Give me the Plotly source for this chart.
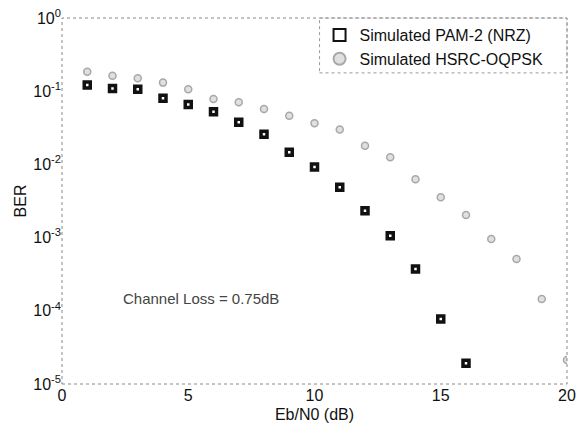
import plotly.graph_objects as go

ebn0_pam = [1, 2, 3, 4, 5, 6, 7, 8, 9, 10, 11, 12, 13, 14, 15, 16]
ber_pam = [0.122, 0.109, 0.106, 0.080, 0.066, 0.0525, 0.0376, 0.0258, 0.0146, 0.0092,
           0.00486, 0.00233, 0.00106, 0.000373, 7.7e-5, 1.92e-5]

ebn0_hsrc = [1, 2, 3, 4, 5, 6, 7, 8, 9, 10, 11, 12, 13, 14, 15, 16, 17, 18, 19, 20]
ber_hsrc = [0.185, 0.163, 0.150, 0.131, 0.106, 0.078, 0.0705, 0.057, 0.0463, 0.0366,
            0.030, 0.018, 0.0125, 0.00625, 0.00355, 0.00204, 0.00096, 0.00051, 0.000145, 2.13e-5]

y_tickvals = [1, 0.1, 0.01, 0.001, 0.0001, 0.00001]
y_ticktext = ["10<sup>0</sup>", "10<sup>-1</sup>", "10<sup>-2</sup>", "10<sup>-3</sup>",
              "10<sup>-4</sup>", "10<sup>-5</sup>"]
x_tickvals = [0, 5, 10, 15, 20]

font_family = "Liberation Sans, Arial, sans-serif"

fig = go.Figure()
fig.add_trace(go.Scatter(
    x=ebn0_pam, y=ber_pam, mode="markers", name="Simulated PAM-2 (NRZ)",
    marker=dict(symbol="square-open", size=6, color="#111111", line=dict(width=3.5, color="#111111")),
))
fig.add_trace(go.Scatter(
    x=ebn0_hsrc, y=ber_hsrc, mode="markers", name="Simulated HSRC-OQPSK",
    marker=dict(symbol="circle", size=7, color="#e0e0e0", line=dict(width=1.5, color="#a8a8a8")),
))

fig.add_annotation(x=5.5, y=-3.83, xref="x", yref="y", text="Channel Loss = 0.75dB",
                   showarrow=False, font=dict(family=font_family, size=15, color="#444"))

# dotted frame
fig.add_shape(type="rect", xref="paper", yref="paper", x0=0, y0=0, x1=1, y1=1,
              line=dict(color="#888", width=1, dash="dot"), layer="above")
# dotted legend box
fig.add_shape(type="rect", xref="paper", yref="paper", x0=0.51, y0=0.85, x1=1, y1=1,
              line=dict(color="#999", width=1, dash="dot"), layer="above")

fig.update_layout(
    width=583, height=423,
    margin=dict(l=62, r=16, t=18, b=39),
    paper_bgcolor="white", plot_bgcolor="white",
    font=dict(family=font_family, size=15, color="#111"),
    showlegend=True,
    legend=dict(x=0.51, y=1, xanchor="left", yanchor="top",
                bgcolor="rgba(255,255,255,0)", borderwidth=0,
                font=dict(family=font_family, size=16, color="#111"),
                itemsizing="constant", tracegroupgap=0),
)
fig.update_xaxes(range=[0, 20], tickvals=x_tickvals, showgrid=False, zeroline=False,
                 showline=False, ticks="", tickfont=dict(size=16), automargin=False,
                 title=dict(text="Eb/N0 (dB)", font=dict(size=16), standoff=6))
fig.update_yaxes(type="log", range=[-5, 0], tickvals=y_tickvals, ticktext=y_ticktext,
                 showgrid=False, zeroline=False, showline=False, ticks="",
                 tickfont=dict(size=16), automargin=False,
                 title=dict(text="BER", font=dict(size=16), standoff=2))

fig.write_html("out.html")
